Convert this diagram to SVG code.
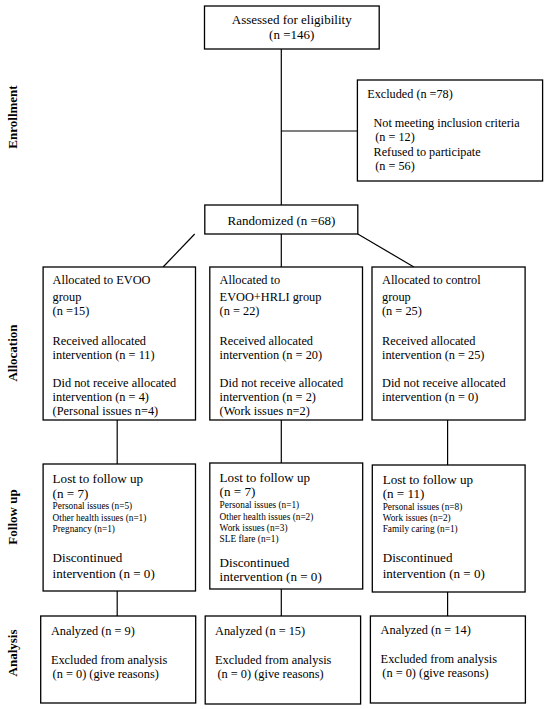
<svg xmlns="http://www.w3.org/2000/svg" width="550" height="709" viewBox="0 0 550 709">
<style>
rect{fill:#fff;stroke:#000;stroke-width:1.3}
.c line{stroke:#000;stroke-width:1.2;fill:none}
text{fill:#000}
.t{font-size:13px}
.m{font-size:13.5px}
.s{font-size:9.6px}
.lab{font-size:13px;font-weight:bold}
.mid{text-anchor:middle}
</style>
<rect width="550" height="709" style="fill:#fff;stroke:none"/>
<g font-family="'Liberation Serif', Tinos, 'Times New Roman', 'DejaVu Serif', serif">
<g class="c" id="connectors">
<line x1="281.3" y1="49" x2="281.3" y2="205"/>
<line x1="281.3" y1="131" x2="357.4" y2="131"/>
<line x1="194.7" y1="234" x2="163.1" y2="267"/>
<line x1="281.3" y1="234" x2="281.3" y2="267"/>
<line x1="357.8" y1="234" x2="413.9" y2="267"/>
<line x1="117.2" y1="420" x2="117.2" y2="464"/>
<line x1="281.3" y1="420" x2="281.3" y2="463"/>
<line x1="447.6" y1="420" x2="447.6" y2="465"/>
<line x1="117.2" y1="591" x2="117.2" y2="616"/>
<line x1="281.3" y1="589" x2="281.3" y2="616"/>
<line x1="447.6" y1="592" x2="447.6" y2="616"/>
</g>
<g id="labels">
<text class="lab mid" transform="translate(17,117) rotate(-90)">Enrollment</text>
<text class="lab mid" transform="translate(17,353) rotate(-90)">Allocation</text>
<text class="lab mid" transform="translate(17,517) rotate(-90)">Follow up</text>
<text class="lab mid" transform="translate(17,653) rotate(-90)">Analysis</text>
</g>
<g id="assessed">
<rect x="204.5" y="6" width="174.7" height="43"/>
<text class="t mid" x="291.7" y="24">Assessed for eligibility</text>
<text class="t mid" x="291.7" y="39">(n =146)</text>
</g>
<g id="excluded">
<rect x="357.4" y="80" width="185.2" height="101"/>
<g transform="translate(367.2 0) scale(0.94 1)">
<text class="t" x="0" y="98">Excluded (n =78)</text>
<text class="t" x="6.7" y="127">Not meeting inclusion criteria</text>
<text class="t" x="8.6" y="141">(n = 12)</text>
<text class="t" x="6.7" y="156">Refused to participate</text>
<text class="t" x="8.6" y="170">(n = 56)</text>
</g>
</g>
<g id="randomized">
<rect x="204.8" y="205" width="153" height="29"/>
<text class="t mid" x="281.4" y="225">Randomized (n =68)</text>
</g>
<g id="alloc1">
<rect x="43.1" y="267" width="152.4" height="153"/>
<g transform="translate(52.6 0) scale(0.95 1)">
<text class="t" x="0" y="284">Allocated to EVOO</text>
<text class="t" x="0" y="301">group</text>
<text class="t" x="0" y="315">(n =15)</text>
<text class="t" x="0" y="345">Received allocated</text>
<text class="t" x="0" y="359">intervention (n = 11)</text>
<text class="t" x="0" y="387">Did not receive allocated</text>
<text class="t" x="0" y="401">intervention (n = 4)</text>
<text class="t" x="0" y="415">(Personal issues n=4)</text>
</g>
</g>
<g id="alloc2">
<rect x="209.8" y="267" width="152.7" height="153"/>
<g transform="translate(219.6 0) scale(0.95 1)">
<text class="t" x="0" y="284">Allocated to</text>
<text class="t" x="0" y="301">EVOO+HRLI group</text>
<text class="t" x="0" y="315">(n = 22)</text>
<text class="t" x="0" y="345">Received allocated</text>
<text class="t" x="0" y="359">intervention (n = 20)</text>
<text class="t" x="0" y="387">Did not receive allocated</text>
<text class="t" x="0" y="401">intervention (n = 2)</text>
<text class="t" x="0" y="415">(Work issues n=2)</text>
</g>
</g>
<g id="alloc3">
<rect x="372" y="267" width="153.1" height="153"/>
<g transform="translate(382 0) scale(0.95 1)">
<text class="t" x="0" y="284">Allocated to control</text>
<text class="t" x="0" y="301">group</text>
<text class="t" x="0" y="315">(n = 25)</text>
<text class="t" x="0" y="345">Received allocated</text>
<text class="t" x="0" y="359">intervention (n = 25)</text>
<text class="t" x="0" y="387">Did not receive allocated</text>
<text class="t" x="0" y="401">intervention (n = 0)</text>
</g>
</g>
<g id="follow1">
<rect x="43.1" y="464" width="152.4" height="127"/>
<g transform="translate(52.6 0) scale(0.97 1)">
<text class="m" x="0" y="483">Lost to follow up</text>
<text class="m" x="0" y="498">(n = 7)</text>
<text class="s" x="0" y="509">Personal issues (n=5)</text>
<text class="s" x="0" y="521">Other health issues (n=1)</text>
<text class="s" x="0" y="532">Pregnancy (n=1)</text>
<text class="m" x="0" y="562">Discontinued</text>
<text class="m" x="0" y="578">intervention (n = 0)</text>
</g>
</g>
<g id="follow2">
<rect x="209.8" y="463" width="152.9" height="126"/>
<g transform="translate(219.6 0) scale(0.97 1)">
<text class="m" x="0" y="482">Lost to follow up</text>
<text class="m" x="0" y="496">(n = 7)</text>
<text class="s" x="0" y="508">Personal issues (n=1)</text>
<text class="s" x="0" y="520">Other health issues (n=2)</text>
<text class="s" x="0" y="531">Work issues (n=3)</text>
<text class="s" x="0" y="542">SLE flare (n=1)</text>
<text class="m" x="0" y="567">Discontinued</text>
<text class="m" x="0" y="581">intervention (n = 0)</text>
</g>
</g>
<g id="follow3">
<rect x="372.3" y="465" width="152.8" height="127"/>
<g transform="translate(382.7 0) scale(0.97 1)">
<text class="m" x="0" y="484">Lost to follow up</text>
<text class="m" x="0" y="498">(n = 11)</text>
<text class="s" x="0" y="510">Personal issues (n=8)</text>
<text class="s" x="0" y="521">Work issues (n=2)</text>
<text class="s" x="0" y="532">Family caring (n=1)</text>
<text class="m" x="0" y="562">Discontinued</text>
<text class="m" x="0" y="578">intervention (n = 0)</text>
</g>
</g>
<g id="analysis1">
<rect x="40.7" y="616" width="155" height="87"/>
<g transform="translate(50.9 0) scale(0.95 1)">
<text class="t" x="0" y="635">Analyzed (n = 9)</text>
<text class="t" x="0" y="664">Excluded from analysis</text>
<text class="t" x="1.8" y="678">(n = 0) (give reasons)</text>
</g>
</g>
<g id="analysis2">
<rect x="205.2" y="616" width="155.4" height="88"/>
<g transform="translate(215 0) scale(0.95 1)">
<text class="t" x="0" y="635">Analyzed (n = 15)</text>
<text class="t" x="0" y="664">Excluded from analysis</text>
<text class="t" x="2.6" y="678">(n = 0) (give reasons)</text>
</g>
</g>
<g id="analysis3">
<rect x="370.4" y="616" width="155" height="87"/>
<g transform="translate(380.6 0) scale(0.95 1)">
<text class="t" x="0" y="634">Analyzed (n = 14)</text>
<text class="t" x="0" y="663">Excluded from analysis</text>
<text class="t" x="1.8" y="677">(n = 0) (give reasons)</text>
</g>
</g>
</g>
</svg>
